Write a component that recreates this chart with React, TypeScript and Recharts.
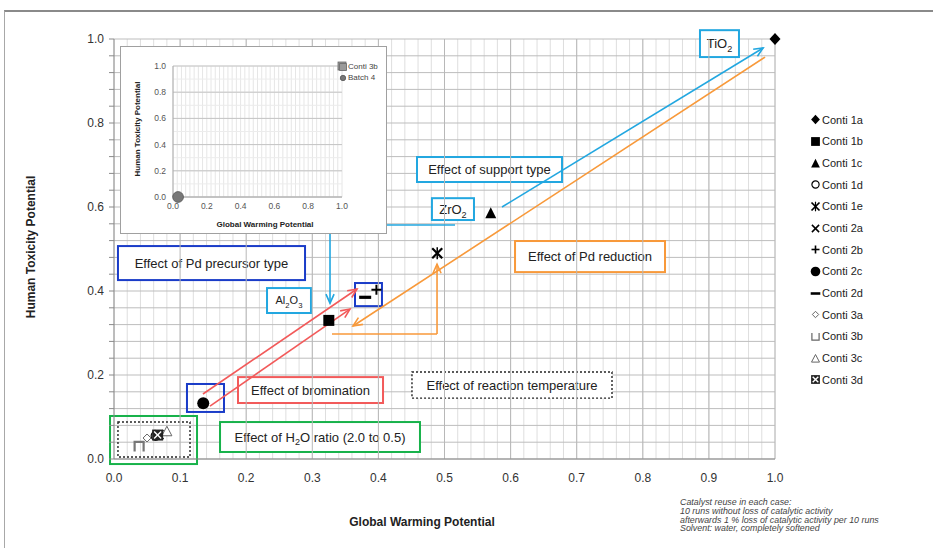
import React from 'react'
import { ScatterChart, Scatter, XAxis, YAxis, CartesianGrid, ReferenceArea, ReferenceLine } from 'recharts'

const FONT = '"Liberation Sans", Arial, Helvetica, sans-serif'

// main chart data (normalised values)
const seriesNames = ['Conti 1a', 'Conti 1b', 'Conti 1c', 'Conti 1d', 'Conti 1e', 'Conti 2a', 'Conti 2b', 'Conti 2c', 'Conti 2d', 'Conti 3a', 'Conti 3b', 'Conti 3c', 'Conti 3d']
const gwpValues = [1.0, 0.325, 0.57, 0.063, 0.489, 0.068, 0.397, 0.135, 0.38, 0.05, 0.038, 0.08, 0.066]
const htpValues = [1.0, 0.33, 0.585, 0.055, 0.49, 0.058, 0.403, 0.133, 0.385, 0.05, 0.03, 0.066, 0.057]
const seriesSymbols = ['diamond', 'square', 'triangle', 'circleOpen', 'asterisk', 'cross', 'plus', 'circle', 'dash', 'diamondOpen', 'cup', 'triangleOpen', 'boxX']

// inset chart data
const insetNames = ['Conti 3b', 'Batch 4']
const insetGwp = [1.0, 0.03]
const insetHtp = [1.0, 0.0]
const insetSymbols = ['graySquare', 'grayCircle']

const footnote = [
  'Catalyst reuse in each case:',
  '10 runs without loss of catalytic activity',
  'afterwards 1 % loss of catalytic activity per 10 runs',
  'Solvent: water, completely softened',
]

const steps = (n: number, k: number) => Array.from({ length: n + 1 }, (_, i) => +(i * k).toFixed(3))
const xTicks = steps(50, 0.02)
const yTicks = steps(25, 0.04)
const xMajor = steps(10, 0.1).slice(1)
const insetXTicks = steps(40, 0.025)
const insetYTicks = steps(10, 0.1)
const insetYMajor = steps(5, 0.2)

const isMult = (v: number, m: number) => Math.abs(v / m - Math.round(v / m)) < 1e-6

const LB = '#22a7e0'
const DB = '#1a3cc8'
const RED = '#f25a5a'
const OR = '#f8993a'
const GR = '#17b24a'

// annotation boxes, in data units
const boxes = [
  { label: 'TiO_{2}', x1: 0.8865, x2: 0.9455, y1: 0.957, y2: 1.021, color: LB },
  { label: 'Effect of support type', x1: 0.4584, x2: 0.6778, y1: 0.6595, y2: 0.719, color: LB },
  { label: 'ZrO_{2}', x1: 0.481, x2: 0.5446, y1: 0.569, y2: 0.621, color: LB },
  { label: 'Al_{2}O_{3}', x1: 0.2315, x2: 0.298, y1: 0.3476, y2: 0.407, color: LB, fs: 11 },
  { label: 'Effect of Pd precursor type', x1: 0.006, x2: 0.289, y1: 0.426, y2: 0.507, color: DB },
  { label: '', x1: 0.3646, x2: 0.4054, y1: 0.364, y2: 0.419, color: DB, fill: 'none' },
  { label: '', x1: 0.1104, x2: 0.1664, y1: 0.112, y2: 0.1786, color: DB, fill: 'none' },
  { label: 'Effect of bromination', x1: 0.1876, x2: 0.407, y1: 0.1333, y2: 0.195, color: RED },
  { label: 'Effect of Pd reduction', x1: 0.6067, x2: 0.8336, y1: 0.445, y2: 0.519, color: OR },
  { label: 'Effect of reaction temperature', x1: 0.4508, x2: 0.7534, y1: 0.145, y2: 0.207, color: '#222', dash: '2 2', sw: 1.4 },
  { label: 'Effect of H_{2}O ratio (2.0 to 0.5)', x1: 0.1604, x2: 0.4629, y1: 0.0167, y2: 0.088, color: GR },
  { label: '', x1: -0.006, x2: 0.1256, y1: -0.012, y2: 0.1024, color: GR, fill: 'none' },
  { label: '', x1: 0.006, x2: 0.115, y1: 0.0048, y2: 0.088, color: '#222', fill: 'none', dash: '2 2', sw: 1.4 },
]

// arrows (polylines), arrow head on the last point
const arrows = [
  { pts: [[0.587, 0.6], [0.982, 0.9786]], color: LB },
  { pts: [[0.5159, 0.557], [0.3268, 0.557], [0.3268, 0.371]], color: LB },
  { pts: [[0.985, 0.957], [0.3616, 0.3167]], color: OR },
  { pts: [[0.3298, 0.2976], [0.4887, 0.2976], [0.4887, 0.464]], color: OR },
  { pts: [[0.1346, 0.1548], [0.3676, 0.4048]], color: RED },
  { pts: [[0.1452, 0.126], [0.357, 0.357]], color: RED },
]

function parseLabel(s: string) {
  const out: { t: string; sub?: boolean }[] = []
  const re = /_\{([^}]*)\}/g
  let last = 0
  let m: RegExpExecArray | null
  while ((m = re.exec(s))) {
    if (m.index > last) out.push({ t: s.slice(last, m.index) })
    out.push({ t: m[1], sub: true })
    last = re.lastIndex
  }
  if (last < s.length) out.push({ t: s.slice(last) })
  return out
}

const boxShape = (b: any) => (p: any) => {
  const { x, y, width, height } = p
  if (x == null || isNaN(x)) return <g />
  const fs = b.fs ?? 13
  const parts = parseLabel(b.label)
  let prevSub = false
  return (
    <g>
      <rect x={x} y={y} width={width} height={height} fill={b.fill ?? '#fff'} stroke={b.color} strokeWidth={b.sw ?? 2} strokeDasharray={b.dash} />
      {b.label && (
        <text x={x + width / 2} y={y + height / 2 + fs * 0.35} textAnchor="middle" fontSize={fs} fontFamily={FONT} fill="#222">
          {parts.map((pt, i) => {
            const dy = pt.sub ? fs * 0.3 : prevSub ? -fs * 0.3 : 0
            prevSub = !!pt.sub
            return (
              <tspan key={i} dy={dy} fontSize={pt.sub ? fs * 0.7 : fs}>
                {pt.t}
              </tspan>
            )
          })}
        </text>
      )}
    </g>
  )
}

const arrowShape = (color: string, head: boolean) => (p: any) => {
  const { x1, y1, x2, y2 } = p
  if ([x1, y1, x2, y2].some((v) => v == null || isNaN(v))) return <g />
  const ang = Math.atan2(y2 - y1, x2 - x1)
  const L = 10
  const a = 0.42
  const hx1 = x2 - L * Math.cos(ang - a)
  const hy1 = y2 - L * Math.sin(ang - a)
  const hx2 = x2 - L * Math.cos(ang + a)
  const hy2 = y2 - L * Math.sin(ang + a)
  return (
    <g>
      <line x1={x1} y1={y1} x2={x2} y2={y2} stroke={color} strokeWidth={1.6} />
      {head && <path d={`M${hx1},${hy1} L${x2},${y2} L${hx2},${hy2}`} stroke={color} strokeWidth={1.6} fill="none" />}
    </g>
  )
}

function Marker({ kind, cx, cy, k = 1, legend = false }: { kind: string; cx: number; cy: number; k?: number; legend?: boolean }) {
  if (cx == null || cy == null) return <g />
  const s = (v: number) => v * k
  switch (kind) {
    case 'diamond':
      return <polygon points={`${cx},${cy - s(6)} ${cx + s(5.5)},${cy} ${cx},${cy + s(6)} ${cx - s(5.5)},${cy}`} fill="#000" />
    case 'square':
      return <rect x={cx - s(5.5)} y={cy - s(5.5)} width={s(11)} height={s(11)} fill="#000" />
    case 'triangle':
      return <polygon points={`${cx},${cy - s(6)} ${cx + s(5.5)},${cy + s(5)} ${cx - s(5.5)},${cy + s(5)}`} fill="#000" />
    case 'circleOpen':
      return <circle cx={cx} cy={cy} r={s(4.5)} fill="#fff" stroke="#000" strokeWidth={1.2} />
    case 'asterisk':
      return (
        <g stroke="#000" strokeWidth={s(2.2)}>
          <line x1={cx - s(5)} y1={cy - s(5)} x2={cx + s(5)} y2={cy + s(5)} />
          <line x1={cx - s(5)} y1={cy + s(5)} x2={cx + s(5)} y2={cy - s(5)} />
          <line x1={cx} y1={cy - s(6)} x2={cx} y2={cy + s(6)} strokeWidth={s(1.5)} />
        </g>
      )
    case 'cross':
      return (
        <g stroke="#000" strokeWidth={1.5}>
          <line x1={cx - s(4.5)} y1={cy - s(4.5)} x2={cx + s(4.5)} y2={cy + s(4.5)} />
          <line x1={cx - s(4.5)} y1={cy + s(4.5)} x2={cx + s(4.5)} y2={cy - s(4.5)} />
        </g>
      )
    case 'plus':
      return (
        <g stroke="#000" strokeWidth={s(2)}>
          <line x1={cx - s(5)} y1={cy} x2={cx + s(5)} y2={cy} />
          <line x1={cx} y1={cy - s(5)} x2={cx} y2={cy + s(5)} />
        </g>
      )
    case 'circle':
      return <circle cx={cx} cy={cy} r={s(6)} fill="#000" />
    case 'dash':
      return <rect x={cx - s(6)} y={cy - s(1.6)} width={s(12)} height={s(3.2)} fill="#000" />
    case 'diamondOpen':
      return <polygon points={`${cx},${cy - s(4)} ${cx + s(4)},${cy} ${cx},${cy + s(4)} ${cx - s(4)},${cy}`} fill="#fff" stroke="#666" strokeWidth={1} />
    case 'cup':
      return legend ? (
        <path d={`M${cx - s(4.5)},${cy - s(4.5)} V${cy + s(4.5)} H${cx + s(4.5)} V${cy - s(4.5)}`} fill="none" stroke="#666" strokeWidth={1.2} />
      ) : (
        <path d={`M${cx - s(4.5)},${cy + s(5)} V${cy - s(4.5)} H${cx + s(4.5)} V${cy + s(5)}`} fill="none" stroke="#777" strokeWidth={2.2} />
      )
    case 'triangleOpen':
      return <polygon points={`${cx},${cy - s(5)} ${cx + s(5)},${cy + s(4.5)} ${cx - s(5)},${cy + s(4.5)}`} fill="#fff" stroke="#666" strokeWidth={1} />
    case 'boxX':
      return (
        <g>
          <rect x={cx - s(5.5)} y={cy - s(5.5)} width={s(11)} height={s(11)} fill="#222" />
          <line x1={cx - s(3.5)} y1={cy - s(3.5)} x2={cx + s(3.5)} y2={cy + s(3.5)} stroke="#fff" strokeWidth={1.4} />
          <line x1={cx - s(3.5)} y1={cy + s(3.5)} x2={cx + s(3.5)} y2={cy - s(3.5)} stroke="#fff" strokeWidth={1.4} />
        </g>
      )
    case 'graySquare':
      return <rect x={cx - s(4)} y={cy - s(4)} width={s(8)} height={s(8)} fill="#9a9a9a" stroke="#6a6a6a" strokeWidth={0.8} />
    case 'grayCircle':
      return <circle cx={cx} cy={cy} r={s(4.5)} fill="#777" stroke="#555" strokeWidth={0.8} />
    default:
      return <g />
  }
}

function InsetChart() {
  return (
    <div style={{ position: 'absolute', left: 120, top: 46, width: 265, height: 186, border: '1px solid #a0a0a0', background: '#fff' }}>
      <ScatterChart width={265} height={186} margin={{ top: 19, right: 44, bottom: 22, left: 30 }}>
        <CartesianGrid stroke="#e6e6e6" horizontal={false} />
        <CartesianGrid stroke="#ececec" vertical={false} />
        {insetYMajor.map((v) => (
          <ReferenceLine key={'iy' + v} y={v} stroke="#c4c4c4" />
        ))}
        <XAxis type="number" dataKey="x" domain={[0, 1]} ticks={insetXTicks} interval={0}
          tickFormatter={(v: number) => (isMult(v, 0.2) ? v.toFixed(1) : '')}
          tick={{ fill: '#555', fontSize: 8.5, fontFamily: FONT }} tickLine={false} tickSize={3} tickMargin={3}
          axisLine={{ stroke: '#aaa' }} height={14} />
        <YAxis type="number" dataKey="y" domain={[0, 1]} ticks={insetYTicks} interval={0}
          tickFormatter={(v: number) => (isMult(v, 0.2) ? v.toFixed(1) : '')}
          tick={{ fill: '#555', fontSize: 8.5, fontFamily: FONT }} tickLine={false} tickSize={3} tickMargin={4}
          axisLine={{ stroke: '#aaa' }} width={22} />
        {insetNames.map((name, i) => (
          <Scatter key={name} name={name} data={[{ x: insetGwp[i], y: insetHtp[i] }]} isAnimationActive={false}
            shape={(p: any) => <Marker kind={insetSymbols[i]} cx={p.cx} cy={p.cy} k={i === 1 ? 1.2 : 1} />} />
        ))}
      </ScatterChart>
      <div style={{ position: 'absolute', left: 16, top: 82, transform: 'translate(-50%,-50%) rotate(-90deg)', fontSize: 8, fontWeight: 700, whiteSpace: 'nowrap', color: '#222' }}>
        Human Toxicity Potential
      </div>
      <div style={{ position: 'absolute', left: 144, top: 177, transform: 'translate(-50%,-50%)', fontSize: 8, fontWeight: 700, whiteSpace: 'nowrap', color: '#222' }}>
        Global Warming Potential
      </div>
      <div style={{ position: 'absolute', left: 218, top: 14, fontSize: 8, color: '#444', lineHeight: '11px' }}>
        {insetNames.map((name, i) => (
          <div key={name} style={{ display: 'flex', alignItems: 'center', height: 11 }}>
            <svg width={8} height={8} style={{ marginRight: 1 }}>
              <Marker kind={insetSymbols[i]} cx={4} cy={4} k={i === 0 ? 0.85 : 0.6} />
            </svg>
            <span>{name}</span>
          </div>
        ))}
      </div>
    </div>
  )
}

export default function App() {
  return (
    <div style={{ position: 'absolute', left: 0, top: 0, width: 933, height: 548, overflow: 'hidden', background: '#fff', fontFamily: FONT }}>
      <div style={{ position: 'absolute', left: 4, top: 10, width: 940, height: 560, borderTop: '2px solid #8a8a8a', borderLeft: '1px solid #a8a8a8' }} />
      <div style={{ position: 'absolute', left: 0, top: 0 }}>
        <ScatterChart width={933} height={548} margin={{ top: 39, right: 158, bottom: 59, left: 64 }}>
          <CartesianGrid stroke="#dedede" horizontal={false} />
          <CartesianGrid stroke="#bdbdbd" vertical={false} />
          {xMajor.map((v) => (
            <ReferenceLine key={'mx' + v} x={v} stroke="#b8b8b8" />
          ))}
          <XAxis type="number" dataKey="x" domain={[0, 1]} ticks={xTicks} interval={0}
            tickFormatter={(v: number) => (isMult(v, 0.1) ? v.toFixed(1) : '')}
            tick={{ fill: '#333', fontSize: 12, fontFamily: FONT }} tickLine={false} tickSize={6} tickMargin={8}
            axisLine={{ stroke: '#8a8a8a' }} height={30} />
          <YAxis type="number" dataKey="y" domain={[0, 1]} ticks={yTicks} interval={0}
            tickFormatter={(v: number) => (isMult(v, 0.2) ? v.toFixed(1) : '')}
            tick={{ fill: '#333', fontSize: 12, fontFamily: FONT }} tickLine={{ stroke: '#8a8a8a' }} tickSize={5} tickMargin={5}
            axisLine={{ stroke: '#8a8a8a' }} width={50} />
          {boxes.map((b, i) => (
            <ReferenceArea key={'b' + i} x1={b.x1} x2={b.x2} y1={b.y1} y2={b.y2} ifOverflow="visible" shape={boxShape(b)} />
          ))}
          {arrows.map((a, i) =>
            a.pts.slice(1).map((pt, j) => (
              <ReferenceLine key={'a' + i + '-' + j} ifOverflow="visible"
                segment={[{ x: a.pts[j][0], y: a.pts[j][1] }, { x: pt[0], y: pt[1] }]}
                shape={arrowShape(a.color, j === a.pts.length - 2)} />
            ))
          )}
          {seriesNames.map((name, i) => (
            <Scatter key={name} name={name} data={[{ x: gwpValues[i], y: htpValues[i] }]} isAnimationActive={false}
              shape={(p: any) => <Marker kind={seriesSymbols[i]} cx={p.cx} cy={p.cy} />} />
          ))}
        </ScatterChart>
      </div>

      <InsetChart />

      <div style={{ position: 'absolute', left: 31, top: 247, transform: 'translate(-50%,-50%) rotate(-90deg)', fontSize: 12, fontWeight: 700, whiteSpace: 'nowrap', color: '#222' }}>
        Human Toxicity Potential
      </div>
      <div style={{ position: 'absolute', left: 422, top: 522, transform: 'translate(-50%,-50%)', fontSize: 12, fontWeight: 700, whiteSpace: 'nowrap', color: '#222' }}>
        Global Warming Potential
      </div>

      <div style={{ position: 'absolute', left: 810, top: 109 }}>
        {seriesNames.map((name, i) => (
          <div key={name} style={{ display: 'flex', alignItems: 'center', height: 21.67, fontSize: 11, color: '#222' }}>
            <svg width={11} height={11} style={{ marginRight: 1 }}>
              <Marker kind={seriesSymbols[i]} cx={5.5} cy={5.5} k={0.8} legend />
            </svg>
            <span>{name}</span>
          </div>
        ))}
      </div>

      <div style={{ position: 'absolute', left: 680, top: 498, fontSize: 8.9, fontStyle: 'italic', lineHeight: '8.8px', color: '#444', whiteSpace: 'nowrap' }}>
        {footnote.map((l) => (
          <div key={l}>{l}</div>
        ))}
      </div>
    </div>
  )
}
